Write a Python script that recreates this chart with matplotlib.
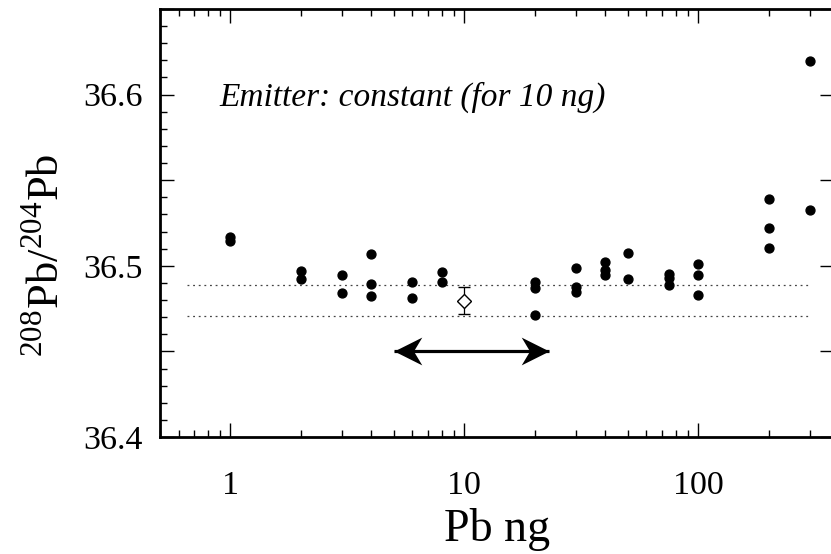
import numpy as np
import matplotlib
matplotlib.use("Agg")
import matplotlib.pyplot as plt
from matplotlib.path import Path
from matplotlib.ticker import MultipleLocator, LogLocator, NullFormatter, FixedLocator, FixedFormatter

plt.rcParams['font.family'] = ['Liberation Serif', 'DejaVu Serif']
plt.rcParams['mathtext.fontset'] = 'custom'
plt.rcParams['mathtext.rm'] = 'Liberation Serif'

# Pb amount (ng) and measured 208Pb/204Pb for each run
pb_ng = [1, 1,
         2, 2,
         3, 3,
         4, 4, 4,
         6, 6,
         8, 8,
         20, 20, 20,
         30, 30, 30,
         40, 40, 40,
         50, 50,
         75, 75, 75,
         100, 100, 100,
         200, 200, 200,
         300, 300]
ratio = [36.517, 36.5147,
         36.4967, 36.4924,
         36.4946, 36.4841,
         36.507, 36.4891, 36.4824,
         36.4905, 36.481,
         36.4961, 36.4907,
         36.4903, 36.487, 36.4715,
         36.4988, 36.4878, 36.4849,
         36.5022, 36.4973, 36.4949,
         36.5076, 36.492,
         36.4955, 36.4926, 36.4888,
         36.501, 36.4949, 36.4827,
         36.539, 36.5221, 36.5105,
         36.6198, 36.5324]

# reference value (open diamond) with its error
ref_x = 10
ref_y = 36.4797
ref_err = 0.0079

# dotted band limits
band = [36.4888, 36.4708]
band_x = [0.65, 300]

# double arrow range
arrow_x = [5, 23]
arrow_y = 36.45

fig = plt.figure(figsize=(8.31, 5.54), dpi=100)
ax = fig.add_axes([160/831, 1-437/554, (834-160)/831, (437-9)/554])

ax.set_xscale('log')
ax.set_xlim(0.5, 380)
ax.set_ylim(36.4, 36.65)

for b in band:
    ax.plot(band_x, [b, b], color='#444444', lw=0.9, ls=(0, (1.5, 3)))

ax.plot(pb_ng, ratio, 'o', color='black', ms=6.4, zorder=3)
ax.errorbar([ref_x], [ref_y], yerr=[ref_err], fmt='D', ms=7.3, mfc='white',
            mec='black', mew=1.0, ecolor='black', elinewidth=0.9, capsize=4, capthick=0.9, zorder=4)

# arrow: shaft plus swept-back heads (tip sits at the marker origin)
head_r = Path([(0, 0), (-2, 1.0), (-1.4, 0), (-2, -1.0), (0, 0)],
              [Path.MOVETO, Path.LINETO, Path.LINETO, Path.LINETO, Path.CLOSEPOLY])
head_l = Path([(0, 0), (2, 1.0), (1.4, 0), (2, -1.0), (0, 0)],
              [Path.MOVETO, Path.LINETO, Path.LINETO, Path.LINETO, Path.CLOSEPOLY])
ax.plot(arrow_x, [arrow_y, arrow_y], color='black', lw=2.3, solid_capstyle='butt')
ax.plot(arrow_x[1], arrow_y, marker=head_r, ms=40, color='black', mew=0)
ax.plot(arrow_x[0], arrow_y, marker=head_l, ms=40, color='black', mew=0)

ax.text(0.9, 36.5936, 'Emitter: constant (for 10 ng)', fontsize=24, style='italic',
        va='baseline', ha='left')

# ticks
ax.xaxis.set_major_locator(FixedLocator([1, 10, 100]))
ax.xaxis.set_major_formatter(FixedFormatter(['1', '10', '100']))
ax.xaxis.set_minor_locator(LogLocator(base=10, subs=np.arange(2, 10)))
ax.xaxis.set_minor_formatter(NullFormatter())
ax.yaxis.set_major_locator(MultipleLocator(0.05))
ax.yaxis.set_minor_locator(MultipleLocator(0.01))
ax.yaxis.set_major_formatter(plt.FuncFormatter(
    lambda v, p: '%.1f' % v if abs(round(v * 10) - v * 10) < 1e-6 else ''))

ax.tick_params(which='both', direction='in', top=True, right=True, labelsize=24.5, width=1.0)
ax.tick_params(which='major', length=10)
ax.tick_params(which='minor', length=5)
ax.tick_params(axis='y', which='minor', right=False)
ax.tick_params(axis='x', pad=24)
ax.tick_params(axis='y', pad=12.5)
for s in ax.spines.values():
    s.set_linewidth(2.0)

ax.set_xlabel('Pb ng', fontsize=33, labelpad=5)
ax.set_ylabel('$^{208}$Pb/$^{204}$Pb', fontsize=32)
ax.yaxis.set_label_coords(-0.1365, 0.425)

fig.savefig('out.png', dpi=100)
